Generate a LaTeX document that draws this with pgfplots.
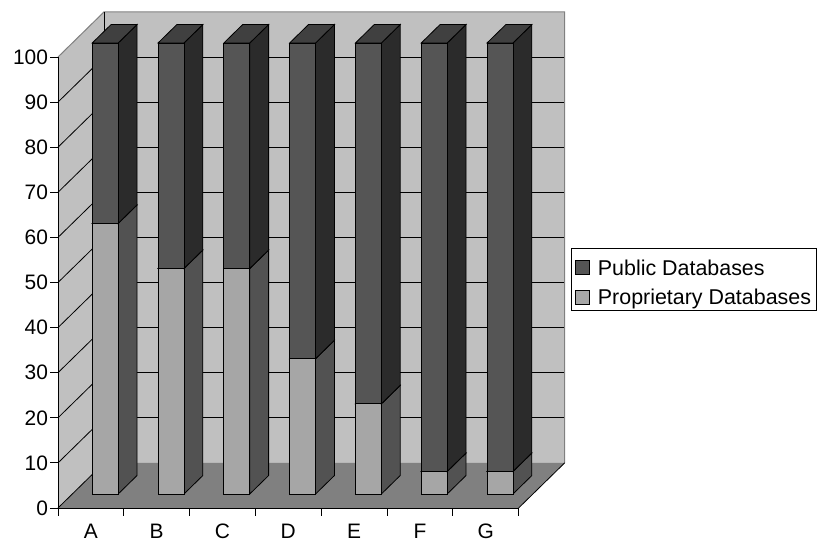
\documentclass[border=0pt]{standalone}
\usepackage{pgfplots}
\pgfplotsset{compat=1.18}
\usepackage{fontspec}
\setmainfont{Liberation Sans}

\definecolor{pubF}{HTML}{555555}
\definecolor{pubS}{HTML}{2B2B2B}
\definecolor{pubT}{HTML}{404040}
\definecolor{propF}{HTML}{A6A6A6}
\definecolor{propS}{HTML}{525252}
\definecolor{propT}{HTML}{7A7A7A}
\definecolor{wall}{HTML}{C0C0C0}
\definecolor{floorc}{HTML}{808080}
\definecolor{edge}{HTML}{808080}

% depth geometry (axis units): front and back planes of the bars
\def\fx{0.217}\def\fy{3.1}
\def\bx{0.504}\def\by{7.2}
\def\hw{0.197}

% one stacked segment of a bar: #1 slot, #2 bottom, #3 top, #4/#5/#6 front/side/top colours
\newcommand\barpart[6]{%
  \pgfmathsetmacro\xl{#1+0.5-\hw+\fx}%
  \pgfmathsetmacro\xr{#1+0.5+\hw+\fx}%
  \pgfmathsetmacro\xbl{#1+0.5-\hw+\bx}%
  \pgfmathsetmacro\xbr{#1+0.5+\hw+\bx}%
  \pgfmathsetmacro\ya{#2+\fy}%
  \pgfmathsetmacro\yb{#3+\fy}%
  \pgfmathsetmacro\yab{#2+\by}%
  \pgfmathsetmacro\ybb{#3+\by}%
  \edef\tmp{%
    \noexpand\addplot[forget plot,fill=#5,draw=black,line width=0.8bp]
      coordinates {(\xr,\ya) (\xbr,\yab) (\xbr,\ybb) (\xr,\yb)} -- cycle;
    \noexpand\addplot[forget plot,fill=#6,draw=black,line width=0.8bp]
      coordinates {(\xl,\yb) (\xr,\yb) (\xbr,\ybb) (\xbl,\ybb)} -- cycle;
    \noexpand\addplot[forget plot,fill=#4,draw=black,line width=0.8bp]
      coordinates {(\xl,\ya) (\xr,\ya) (\xr,\yb) (\xl,\yb)} -- cycle;
  }\tmp
}
% #1 slot, #2 proprietary share, #3 public share
\newcommand\stackbar[3]{%
  \pgfmathsetmacro\stacktop{#2+#3}%
  \barpart{#1}{0}{#2}{propF}{propS}{propT}%
  \barpart{#1}{#2}{\stacktop}{pubF}{pubS}{pubT}%
}

\begin{document}
\begin{tikzpicture}
\useasboundingbox (0,0) rectangle (820bp,542bp);
\begin{axis}[
  x=65.8bp, y=4.51bp,
  xmin=0, xmax=7.7, ymin=0, ymax=110,
  anchor=origin, at={(58bp,34bp)},
  clip=false,
  axis line style={draw=none},
  tick align=outside,
  ytick pos=left, xtick pos=bottom,
  ytick={0,10,...,100},
  xtick={0,...,7}, xticklabels={},
  extra x ticks={0.5,1.5,...,6.5},
  extra x tick labels={A,B,C,D,E,F,G},
  extra x tick style={major tick length=0pt,
    xticklabel style={yshift=-12.5bp}},
  major tick length=7.5bp,
  tick style={black,line width=0.8bp},
  tick label style={font=\fontsize{21}{24}\selectfont},
  yticklabel style={xshift=1bp},
  /pgf/number format/assume math mode=true,
  legend style={at={(1.013,0.524)}, anchor=north west,
    draw=black, line width=0.8bp,
    font=\fontsize{21.5}{25}\selectfont,
    inner xsep=3bp, inner ysep=0.5bp, row sep=-2bp, column sep=2.5bp,
    nodes={inner xsep=2bp, inner ysep=0bp, text height=26.5bp, text depth=5bp}},
  legend cell align=left,
  legend image code/.code={%
    \draw[#1,draw=black,line width=0.6bp] (0bp,-10bp) rectangle (14bp,4bp);
    \path[draw=none,fill=none] (14bp,-3bp) -- (18.5bp,-3bp);},
]
\addlegendimage{fill=pubF}
\addlegendentry{Public Databases}
\addlegendimage{fill=propF}
\addlegendentry{Proprietary Databases}

% walls and floor
\addplot[forget plot,fill=wall,draw=none] coordinates {(0.7,10) (7.7,10) (7.7,110) (0.7,110)} -- cycle;
\addplot[forget plot,fill=wall,draw=none] coordinates {(0,0) (0.7,10) (0.7,110) (0,100)} -- cycle;
\addplot[forget plot,fill=floorc,draw=none] coordinates {(0,0) (7,0) (7.7,10) (0.7,10)} -- cycle;

% gridlines
\foreach \k in {20,30,...,100}{
  \edef\tmp{\noexpand\addplot[forget plot,black,line width=0.8bp] coordinates {(0.7,\k) (7.7,\k)};}\tmp
}
\foreach \k in {10,20,...,90}{
  \pgfmathsetmacro\kk{\k+10}
  \edef\tmp{\noexpand\addplot[forget plot,black,line width=0.8bp] coordinates {(0,\k) (0.7,\kk)};}\tmp
}
% wall edges
\addplot[forget plot,edge,line width=1bp] coordinates {(0,100) (0.7,110) (7.7,110) (7.7,10)};
\addplot[forget plot,black,line width=0.8bp] coordinates {(0.7,10) (0.7,110)};
\addplot[forget plot,black,line width=0.8bp] coordinates {(0,0) (0.7,10)};
\addplot[forget plot,black,line width=0.8bp] coordinates {(7,0) (7.7,10)};

% bars: proprietary / public shares (%)
\stackbar{0}{60}{40}
\stackbar{1}{50}{50}
\stackbar{2}{50}{50}
\stackbar{3}{30}{70}
\stackbar{4}{20}{80}
\stackbar{5}{5}{95}
\stackbar{6}{5}{95}

% front axis lines
\addplot[forget plot,black,line width=1bp] coordinates {(0,100) (0,0) (7,0)};
\end{axis}
\end{tikzpicture}
\end{document}
